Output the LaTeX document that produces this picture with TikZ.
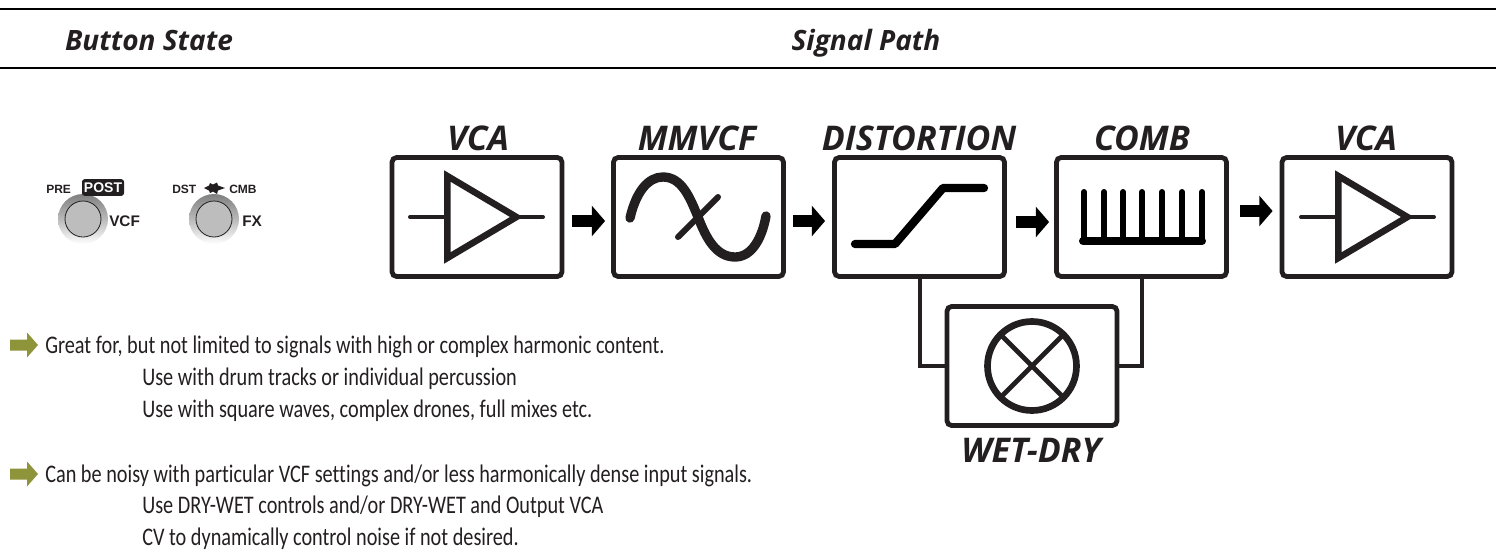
\documentclass[tikz,border=0pt]{standalone}
\usepackage{fontspec}
\setmainfont{Carlito}
\newfontfamily\titlefont[BoldItalicFont=Open Sans Bold Italic]{Open Sans}
\newfontfamily\bodyfont[FakeStretch=0.8,Ligatures={NoCommon,NoRare}]{Carlito}
\newfontfamily\panelfont{Liberation Sans}
\usetikzlibrary{arrows.meta,calc}
\definecolor{ink}{HTML}{231F20}
\definecolor{olive}{HTML}{8D9439}
\definecolor{btngray}{HTML}{BDBDBD}
\tikzset{
  fxbox/.style={draw=ink,line width=3.6pt,rounded corners=3.5pt,minimum width=127.5pt,minimum height=89.25pt,inner sep=0pt,fill=white},
  blockarrow/.style={line width=9.5pt,black,-{Triangle[length=10pt,width=22.5pt]}},
  wire/.style={draw=ink,line width=3pt},
  title/.style={font=\titlefont\bfseries\itshape\fontsize{25.5pt}{26pt}\selectfont,text=ink,anchor=base,inner sep=0pt},
  header/.style={font=\titlefont\bfseries\itshape\fontsize{21pt}{22pt}\selectfont,text=ink,anchor=base,inner sep=0pt},
  body/.style={font=\bodyfont\fontsize{19pt}{20pt}\selectfont,text=ink,anchor=base west,inner sep=0pt},
  panel/.style={font=\panelfont\bfseries\fontsize{9pt}{10pt}\selectfont,text=ink,anchor=base west,inner sep=0pt},
  panelbig/.style={font=\panelfont\bfseries\fontsize{11.5pt}{12pt}\selectfont,text=ink,anchor=base west,inner sep=0pt},
  hbar/.style={draw=black,line width=2.2pt},
  glyph/.style={draw=ink,line cap=round,line join=round},
  bullet/.style={fill=olive,draw=none},
  pushbutton/.style={circle,draw=ink,line width=.6pt,fill=btngray,minimum size=27pt,inner sep=0pt},
}
\begin{document}
\begin{tikzpicture}[x=.75pt,y=-.75pt]
\useasboundingbox (0,0) rectangle (1496,550);
% header
\coordinate (t1) at (0,9); \coordinate (t2) at (1496,9);
\coordinate (m1) at (0,68); \coordinate (m2) at (1496,68);
\draw[hbar] (t1) -- (t2);
\draw[hbar] (m1) -- (m2);
\node[header] (hb) at (149,50) {Button State};
\node[header] (hs) at (866,50) {Signal Path};
% panel buttons
\shade[inner color=gray!90,outer color=white,middle color=gray!55] (83,219) circle (25);
\shade[inner color=gray!90,outer color=white,middle color=gray!55] (214,219) circle (25);
\node[pushbutton] (b1) at (83,219) {};
\node[pushbutton] (b2) at (214,219) {};
\node[panel] (pre) at (46,193) {PRE};
\node[fill=ink,rounded corners=2pt,text=white,font=\panelfont\bfseries\fontsize{10.5pt}{11pt}\selectfont,minimum width=31.5pt,minimum height=12.5pt,inner sep=0pt] (post) at (103,187.5) {POST};
\node[panelbig] (vcf) at (109,226) {VCF};
\node[panel] (dst) at (172,193) {DST};
\node[panel] (cmb) at (229,193) {CMB};
\node[panelbig] (fx) at (242,226) {FX};
\fill[ink] (204,188) -- (209,185.5) -- (210,183) -- (213,184.5) -- (217,182.5) -- (218,185.5) -- (225,188) -- (218,190.5) -- (217,194) -- (213,191.5) -- (210,193) -- (209,190.5) -- cycle;
% fx boxes
\node[fxbox] (vca1) at (477,217) {};
\node[fxbox] (vcf1) at (698.5,217) {};
\node[fxbox] (dist) at (919.5,217) {};
\node[fxbox] (comb) at (1141.5,217) {};
\node[fxbox] (vca2) at (1367,217) {};
\node[fxbox] (wd) at (1032,366) {};
% titles
\node[title] (tv1) at (478,150) {VCA};
\node[title] (tm) at (697,150) {MMVCF};
\node[title] (td) at (919,150) {DISTORTION};
\node[title] (tc) at (1142,150) {COMB};
\node[title] (tv2) at (1366,150) {VCA};
\node[title] (tw) at (1031,462) {WET-DRY};
% arrows between boxes
\draw[blockarrow] ($(vca1.east)+(8,4)$) -- ($(vcf1.west)+(-6,4)$);
\draw[blockarrow] ($(vcf1.east)+(7,4)$) -- ($(dist.west)+(-7,4)$);
\draw[blockarrow] ($(dist.east)+(9,5)$) -- ($(comb.west)+(-5,5)$);
\draw[blockarrow] ($(comb.east)+(11,-6)$) -- ($(vca2.west)+(-7,-6)$);
% wet-dry wires
\draw[wire,line join=miter] (dist.south) |- (wd.west);
\draw[wire,line join=miter] (comb.south) |- (wd.east);
% VCA glyphs
\foreach \dx in {0,891}{
  \begin{scope}[xshift=\dx*.75pt]
  \draw[ink,line width=3pt,line cap=round] (410,217) -- (446,217);
  \draw[ink,line width=3pt,line cap=round] (520,217) -- (543,217);
  \draw[ink,line width=4.9pt,line join=miter,miter limit=20] (447.3,176) -- (447.3,258) -- (516.4,217) -- cycle;
  \end{scope}
}
% filter glyph
\draw[glyph,line width=7pt] (630,218) .. controls (636,192) and (648,177) .. (663,177)
   .. controls (682,177) and (690,198) .. (698,217)
   .. controls (706,238) and (716,257) .. (735,257)
   .. controls (752,257) and (762,238) .. (766,216);
\draw[glyph,line width=4.5pt] (678,237) -- (718,197);
% distortion glyph
\draw[glyph,line width=6.2pt,draw=black] (855,244) -- (895,244) -- (943,188) -- (984,188);
% comb glyph
\draw[glyph,draw=black,line width=6pt] (1083,241) -- (1202,241);
\foreach \tx in {1084,1104,1123,1142,1162,1182,1202}{
  \draw[glyph,draw=black,line width=4.5pt] (\tx,241) -- (\tx,192);
}
% mixer glyph
\draw[ink,line width=5pt] (1032,366) circle (44.5);
\draw[ink,line width=3.6pt] (1000.5,334.5) -- (1063.5,397.5);
\draw[ink,line width=3.6pt] (1000.5,397.5) -- (1063.5,334.5);
% bullets
\foreach \by in {345,474}{
  \fill[bullet] (10,\by-5.5) -- (27,\by-5.5) -- (27,\by-12.5) -- (38,\by) -- (27,\by+12.5) -- (27,\by+5.5) -- (10,\by+5.5) -- cycle;
}
% text
\node[body] (l1) at (45,353) {Great for, but not limited to signals with high or complex harmonic content.};
\node[body] (l2) at (142,385) {Use with drum tracks or individual percussion};
\node[body] (l3) at (142,417) {Use with square waves, complex drones, full mixes etc.};
\node[body] (l4) at (45,482) {Can be noisy with particular VCF settings and/or less harmonically dense input signals.};
\node[body] (l5) at (142,513) {Use DRY-WET controls and/or DRY-WET and Output VCA};
\node[body] (l6) at (142,545) {CV to dynamically control noise if not desired.};
\end{tikzpicture}
\end{document}
